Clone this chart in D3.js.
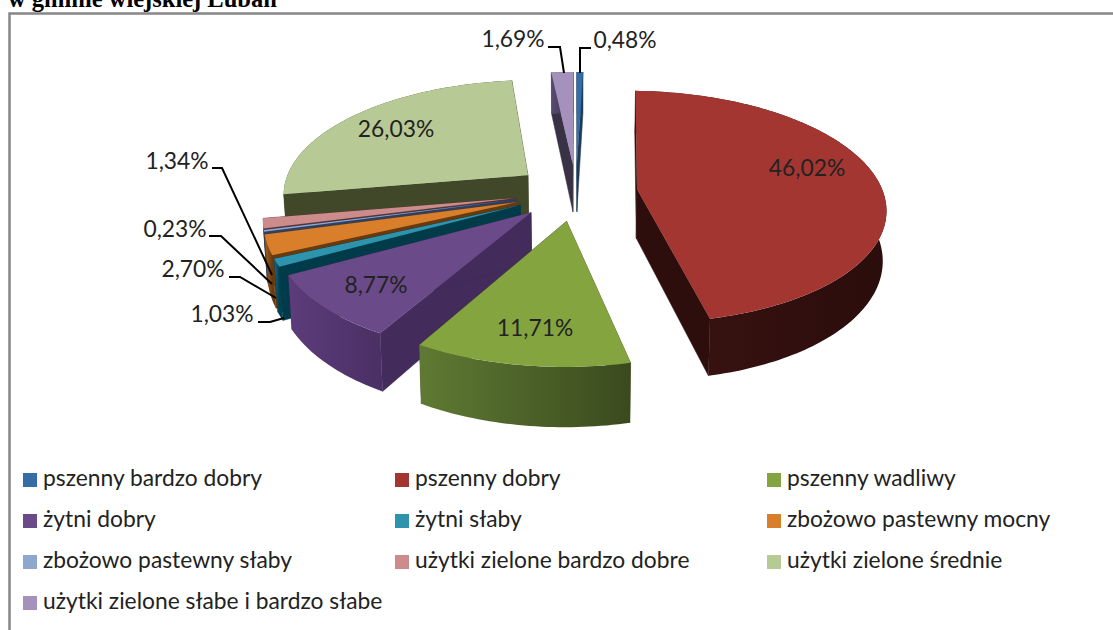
<!DOCTYPE html>
<html>
<head>
<meta charset="utf-8">
<style>
  html, body { margin: 0; padding: 0; background: #fff; overflow: hidden; }
  text { font-family: Lato, "Open Sans", sans-serif; fill: #222; }
</style>
<script src="https://cdn.jsdelivr.net/npm/d3@7/dist/d3.min.js"></script>
</head>
<body>
<svg id="chart" width="1113" height="630"></svg>
<script>
const categories = [
  "pszenny bardzo dobry", "pszenny dobry", "pszenny wadliwy",
  "żytni dobry", "żytni słaby", "zbożowo pastewny mocny",
  "zbożowo pastewny słaby", "użytki zielone bardzo dobre", "użytki zielone średnie",
  "użytki zielone słabe i bardzo słabe"
];
const values = [0.48, 46.02, 11.71, 8.77, 1.03, 2.70, 0.23, 1.34, 26.03, 1.69];

const topColors =  ["#356EA6", "#A43632", "#84A43F", "#6A4A88", "#2E94AE", "#D97E2A", "#8FA6CE", "#CC8C8B", "#B7C994", "#A592BC"];
const sideColors = ["#1C3A59", "#2E0E0D", "#414F1F", "#432B5C", "#003B4A", "#6A3A0F", "#2F3F60", "#5A3534", "#41482A", "#393145"];
const rimLeft =    ["#2A5580", "#3C1311", "#5F7A33", "#5C3C7A", "#1E6A80", "#A0601E", "#6A80A0", "#99696A", "#41482A", "#5A4A70"];
const rimRight =   ["#1C3A59", "#2A0D0C", "#3A4A1E", "#4A3064", "#004050", "#6A3A0F", "#4A5A78", "#6A4544", "#41482A", "#393145"];

// painter's order, back slices first
const drawOrder = [8, 9, 0, 1, 7, 6, 5, 4, 3, 2];

// label anchors and leader lines, by category index
const labelAt = [
  [625, 48], [807, 176], [535, 336], [376, 293], [222, 322],
  [193, 277], [175, 237], [177, 169], [396, 137], [513, 47]
];
const leaders = {
  0: [[591, 48], [580, 48], [580, 73]],
  4: [[258, 322], [270, 322], [284, 318]],
  5: [[229, 277], [240, 277], [276, 298]],
  6: [[209, 236], [221, 236], [272, 284]],
  7: [[212, 168], [222, 168], [272, 275]],
  9: [[548, 47], [560, 47], [564, 73]]
};

const svg = d3.select("#chart");
const defs = svg.append("defs");

// projection of the tilted disc: u to the right, v towards the viewer
const cx = 576, cy = 192, radiusX = 246, radiusY = 114, persp = 0.15;
const explode = 0.25, depth = 49, bottomShrink = 0.988;

function project(u, v) {
  const s = 1 / (1 - persp * v);
  return [cx + radiusX * u * s, cy + radiusY * v * s, s];
}
function drop(p) {
  return [cx + (p[0] - cx) * bottomShrink, p[1] + depth * p[2]];
}

const pie = d3.pie().sort(null).startAngle(0).endAngle(2 * Math.PI);
const arcs = pie(values);
const line = d3.line();

function slicePoints(d) {
  const mid = (d.startAngle + d.endAngle) / 2;
  const ox = explode * Math.sin(mid), oy = -explode * Math.cos(mid);
  const at = a => project(ox + Math.sin(a), oy - Math.cos(a));
  const n = Math.max(2, Math.ceil((d.endAngle - d.startAngle) / 0.02));
  const rim = d3.range(n + 1).map(i => at(d.startAngle + (d.endAngle - d.startAngle) * i / n));
  return { apex: project(ox, oy), rim };
}

const slices = svg.append("g");
drawOrder.forEach(i => {
  const d = arcs[i];
  const { apex, rim } = slicePoints(d);
  const first = rim[0], last = rim[rim.length - 1];
  const g = slices.append("g");

  [first, last].forEach(p => {
    g.append("path")
      .attr("d", line([apex, p, drop(p), drop(apex)]) + "Z")
      .attr("fill", sideColors[i])
      .attr("stroke", sideColors[i])
      .attr("stroke-width", 0.5);
  });

  const gradId = "rim" + i;
  const xs = d3.extent(rim, p => p[0]);
  const grad = defs.append("linearGradient")
    .attr("id", gradId)
    .attr("gradientUnits", "userSpaceOnUse")
    .attr("x1", xs[0]).attr("x2", xs[1]).attr("y1", 0).attr("y2", 0);
  grad.append("stop").attr("offset", 0).attr("stop-color", rimLeft[i]);
  grad.append("stop").attr("offset", 1).attr("stop-color", rimRight[i]);

  g.append("path")
    .attr("d", line(rim.concat(rim.map(drop).reverse())) + "Z")
    .attr("fill", `url(#${gradId})`);

  g.append("path")
    .attr("d", line([apex].concat(rim)) + "Z")
    .attr("fill", topColors[i]);
});

// leader lines
Object.values(leaders).forEach(pts => {
  svg.append("path")
    .attr("d", line(pts))
    .attr("fill", "none")
    .attr("stroke", "#000")
    .attr("stroke-width", 2);
});

// value labels
svg.append("g").selectAll("text")
  .data(values)
  .enter().append("text")
  .attr("x", (_, i) => labelAt[i][0])
  .attr("y", (_, i) => labelAt[i][1])
  .attr("text-anchor", "middle")
  .style("font-size", "22.8px")
  .text(d => d.toFixed(2).replace(".", ",") + "%");

// legend, three columns
const legendX = [23, 395, 767], legendY = [480, 521, 562, 603];
const legend = svg.append("g").selectAll("g")
  .data(categories)
  .enter().append("g")
  .attr("transform", (_, i) => `translate(${legendX[i % 3]},${legendY[Math.floor(i / 3)]})`);
legend.append("rect")
  .attr("x", 0).attr("y", -7)
  .attr("width", 14).attr("height", 14)
  .attr("fill", (_, i) => topColors[i]);
legend.append("text")
  .attr("x", 20).attr("y", 6)
  .style("font-size", "22.8px")
  .text(d => d);

// chart frame and the caption line cut off above it
svg.append("path")
  .attr("d", "M1113,13.5H9.5V630")
  .attr("fill", "none")
  .attr("stroke", "#868686")
  .attr("stroke-width", 2.5);
svg.append("text")
  .attr("x", 8).attr("y", 7)
  .style("font-family", '"Liberation Serif", serif')
  .style("font-weight", "bold")
  .style("font-size", "24.5px")
  .style("fill", "#000")
  .text("w gminie wiejskiej Lubań");
</script>
</body>
</html>
